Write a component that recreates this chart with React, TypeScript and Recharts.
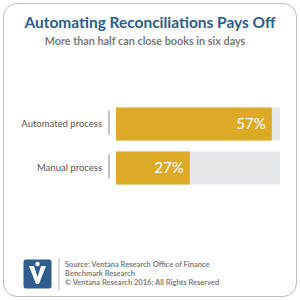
import React from 'react';
import { BarChart, Bar, XAxis, YAxis, LabelList } from 'recharts';

// 프로세스 유형별 6일 내 결산 완료 비율
const categories = ['Automated process', 'Manual process'];
const shares = [57, 27];
const axisMax = 60;

const title = 'Automating Reconciliations Pays Off';
const subtitle = 'More than half can close books in six days';
const sourceLines = [
  'Source: Ventana Research Office of Finance',
  'Benchmark Research',
  '© Ventana Research 2016; All Rights Reserved',
];

const chartData = categories.map((name, i) => ({ name, value: shares[i] }));

const FONT = 'Lato, "Open Sans", sans-serif';

// 카테고리 라벨 + 세로 구분선
const CategoryTick = (props: any) => {
  const { x, y, payload } = props;
  return (
    <g>
      <text
        x={x}
        y={y}
        dy={3.5}
        textAnchor="end"
        fontFamily={FONT}
        fontSize={9.5}
        fill="#555"
      >
        {payload.value}
      </text>
      <line x1={x + 7} x2={x + 7} y1={y - 13} y2={y + 11} stroke="#999" strokeWidth={1.2} />
    </g>
  );
};

const App: React.FC = () => {
  return (
    <div
      style={{
        position: 'absolute',
        left: 0,
        top: 0,
        width: 300,
        height: 300,
        background: '#fff',
        fontFamily: FONT,
      }}
    >
      <div
        style={{
          position: 'absolute',
          left: 3,
          top: 3,
          width: 292,
          height: 292,
          border: '1.5px solid #bdbdbd',
          borderRadius: 14,
        }}
      />
      <svg width={300} height={300} style={{ position: 'absolute', left: 0, top: 0 }}>
        <text
          x={150}
          y={27.5}
          textAnchor="middle"
          fontFamily={FONT}
          fontWeight={700}
          fontSize={16}
          textLength={251}
          lengthAdjust="spacingAndGlyphs"
          fill="#2c5c8e"
        >
          {title}
        </text>
        <text x={145} y={45} textAnchor="middle" fontFamily={FONT} fontWeight={700} fontSize={10.8} fill="#7a7a7a">
          {subtitle}
        </text>
        {/* 로고 */}
        <rect x={23.5} y={259.5} width={28} height={29} rx={2.5} fill="#2e5d8e" />
        <path d="M29 266 L34 266 L37.5 277 L41 266 L46 266 L39 284 L36 284 Z" fill="#fff" />
        <circle cx={37.5} cy={264} r={2.2} fill="#fff" />
        <line x1={59} x2={59} y1={258} y2={290} stroke="#c4c4c4" strokeWidth={1.2} />
        {sourceLines.map((line, i) => (
          <text key={i} x={65} y={267 + i * 9} fontFamily={FONT} fontWeight={700} fontSize={7.5} fill="#808080">
            {line}
          </text>
        ))}
      </svg>
      <div style={{ position: 'absolute', left: 0, top: 0 }}>
        <BarChart
          width={300}
          height={300}
          data={chartData}
          layout="vertical"
          margin={{ top: 101.5, right: 20, left: 0, bottom: 110.5 }}
        >
          <XAxis type="number" domain={[0, axisMax]} hide />
          <YAxis
            type="category"
            dataKey="name"
            width={116}
            axisLine={false}
            tickLine={false}
            tickMargin={8}
            tick={<CategoryTick />}
          />
          <Bar
            dataKey="value"
            fill="#dcaa26"
            barSize={33}
            background={{ fill: '#e6e7e8' }}
            isAnimationActive={false}
          >
            <LabelList
              dataKey="value"
              position="insideRight"
              offset={6}
              formatter={(v: any) => `${v}%`}
              fill="#fff"
              fontSize={15}
              fontFamily={FONT}
            />
          </Bar>
        </BarChart>
      </div>
    </div>
  );
};

export default App;
